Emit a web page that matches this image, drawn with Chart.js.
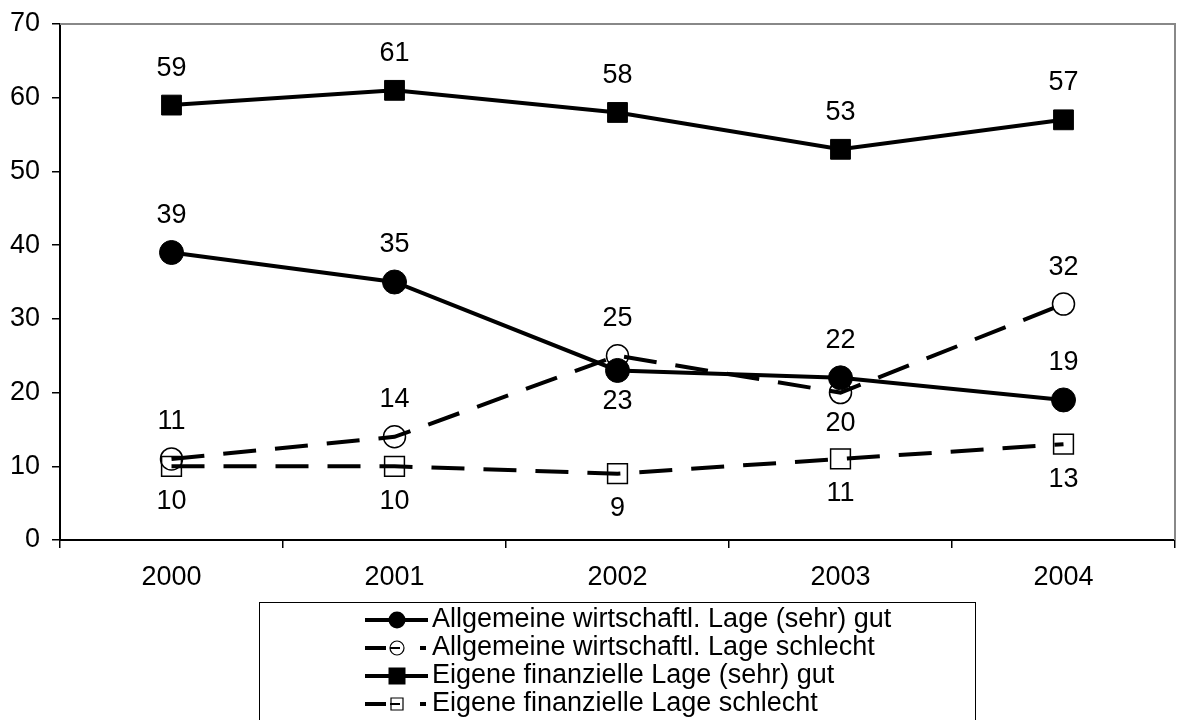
<!DOCTYPE html>
<html>
<head>
<meta charset="utf-8">
<script src="https://cdn.jsdelivr.net/npm/chart.js@4/dist/chart.umd.min.js"></script>
<style>
  html, body { margin: 0; padding: 0; background: #fff; }
  #wrap { width: 1177px; height: 720px; position: relative; }
</style>
</head>
<body>
<div id="wrap"><canvas id="chart" width="1177" height="720"></canvas></div>
<script>
// Data
const years = ["2000", "2001", "2002", "2003", "2004"];
const allgGut = [39, 35, 23, 22, 19];
const allgSchlecht = [11, 14, 25, 20, 32];
const eigenGut = [59, 61, 58, 53, 57];
const eigenSchlecht = [10, 10, 9, 11, 13];
const seriesNames = [
  "Allgemeine wirtschaftl. Lage (sehr) gut",
  "Allgemeine wirtschaftl. Lage schlecht",
  "Eigene finanzielle Lage (sehr) gut",
  "Eigene finanzielle Lage schlecht",
];

const FONT = "'Liberation Sans', Arial, sans-serif";
const FS = 27;
const DASH = [33, 19];
const LW = 4;

Chart.defaults.font.family = FONT;
Chart.defaults.font.size = FS;
Chart.defaults.color = "#000";

// value labels above ('a') or below ('b') the point
const valueLabels = {
  id: "valueLabels",
  afterDatasetsDraw(chart) {
    const ctx = chart.ctx;
    ctx.save();
    ctx.font = FS + "px " + FONT;
    ctx.fillStyle = "#000";
    ctx.textAlign = "center";
    ctx.textBaseline = "middle";
    chart.data.datasets.forEach((ds, i) => {
      const meta = chart.getDatasetMeta(i);
      meta.data.forEach((pt, j) => {
        const pos = ds.labelPos[j];
        const y = pos === "a" ? pt.y - 37 : pt.y + ds.below;
        ctx.fillText(String(ds.data[j]), pt.x, y);
      });
    });
    ctx.restore();
  },
};

// frame (grey top/right) + legend box
const frameLegend = {
  id: "frameLegend",
  afterDraw(chart) {
    const ctx = chart.ctx;
    const a = chart.chartArea;
    ctx.save();
    ctx.strokeStyle = "#888";
    ctx.lineWidth = 2;
    ctx.beginPath();
    ctx.moveTo(a.left, a.top);
    ctx.lineTo(a.right, a.top);
    ctx.lineTo(a.right, a.bottom);
    ctx.stroke();

    // legend
    ctx.strokeStyle = "#000";
    ctx.lineWidth = 1;
    ctx.strokeRect(259.5, 602.5, 716, 140);
    ctx.font = FS + "px " + FONT;
    ctx.textBaseline = "middle";
    ctx.textAlign = "left";
    ctx.fillStyle = "#000";
    chart.data.datasets.forEach((ds, i) => {
      const y = 620 + i * 28;
      const mx = 397;
      ctx.lineWidth = LW;
      ctx.setLineDash([]);
      ctx.beginPath();
      if (ds.borderDash) {
        ctx.moveTo(365, y);
        ctx.lineTo(386, y);
        ctx.moveTo(420, y);
        ctx.lineTo(426, y);
      } else {
        ctx.moveTo(365, y);
        ctx.lineTo(428, y);
      }
      ctx.stroke();
      ctx.lineWidth = 1.2;
      ctx.beginPath();
      const open = ds.pointBackgroundColor !== "#000";
      if (ds.pointStyle === "circle") {
        ctx.arc(mx, y, open ? 7 : 8.5, 0, Math.PI * 2);
      } else {
        const h = open ? 6 : 8.5;
        ctx.rect(mx - h, y - h, h * 2, h * 2);
      }
      if (open) {
        ctx.fillStyle = "#fff";
        ctx.fill();
        ctx.stroke();
        if (ds.borderDash) {
          ctx.lineWidth = 2;
          ctx.beginPath();
          ctx.moveTo(mx - 7, y);
          ctx.lineTo(mx + 3, y);
          ctx.stroke();
        }
      } else {
        ctx.fillStyle = "#000";
        ctx.fill();
      }
      ctx.fillStyle = "#000";
      ctx.fillText(seriesNames[i], 432, y);
    });
    ctx.restore();
  },
};

new Chart(document.getElementById("chart"), {
  type: "line",
  data: {
    labels: years,
    datasets: [
      {
        label: seriesNames[0],
        data: allgGut,
        borderColor: "#000",
        borderWidth: LW,
        pointStyle: "circle",
        pointRadius: 12,
        pointBackgroundColor: "#000",
        pointBorderColor: "#000",
        pointBorderWidth: 1,
        labelPos: ["a", "a", "b", "a", "a"],
        below: 31,
      },
      {
        label: seriesNames[1],
        data: allgSchlecht,
        borderColor: "#000",
        borderWidth: LW,
        borderDash: DASH,
        pointStyle: "circle",
        pointRadius: 11,
        pointBackgroundColor: "rgba(0,0,0,0)",
        pointBorderColor: "#000",
        pointBorderWidth: 1.5,
        labelPos: ["a", "a", "a", "b", "a"],
        below: 31,
      },
      {
        label: seriesNames[2],
        data: eigenGut,
        borderColor: "#000",
        borderWidth: LW,
        pointStyle: "rect",
        pointRadius: 14,
        pointBackgroundColor: "#000",
        pointBorderColor: "#000",
        pointBorderWidth: 1,
        labelPos: ["a", "a", "a", "a", "a"],
        below: 35,
      },
      {
        label: seriesNames[3],
        data: eigenSchlecht,
        borderColor: "#000",
        borderWidth: LW,
        borderDash: DASH,
        pointStyle: "rect",
        pointRadius: 14,
        pointBackgroundColor: "rgba(0,0,0,0)",
        pointBorderColor: "#000",
        pointBorderWidth: 1.5,
        labelPos: ["b", "b", "b", "b", "b"],
        below: 35,
      },
    ],
  },
  options: {
    responsive: false,
    animation: false,
    tension: 0,
    layout: { autoPadding: false, padding: { top: 24, right: 2, left: 0, bottom: 0 } },
    plugins: {
      legend: { display: false },
      tooltip: { enabled: false },
    },
    scales: {
      x: {
        offset: true,
        afterFit: (s) => { s.height = 180; s.paddingLeft = 0; s.paddingRight = 0; },
        grid: {
          offset: true,
          drawOnChartArea: false,
          tickLength: 8,
          color: "#000",
          lineWidth: 1.5,
        },
        border: { color: "#000", width: 2 },
        ticks: { padding: 13, color: "#000", font: { size: FS } },
      },
      y: {
        min: 0,
        max: 70,
        afterFit: (s) => { s.width = 60; s.paddingTop = 0; s.paddingBottom = 0; },
        grid: {
          drawOnChartArea: false,
          tickLength: 8,
          color: "#000",
          lineWidth: 1.5,
        },
        border: { color: "#000", width: 2 },
        ticks: { stepSize: 10, padding: 12, color: "#000", font: { size: FS } },
      },
    },
  },
  plugins: [valueLabels, frameLegend],
});
</script>
</body>
</html>
